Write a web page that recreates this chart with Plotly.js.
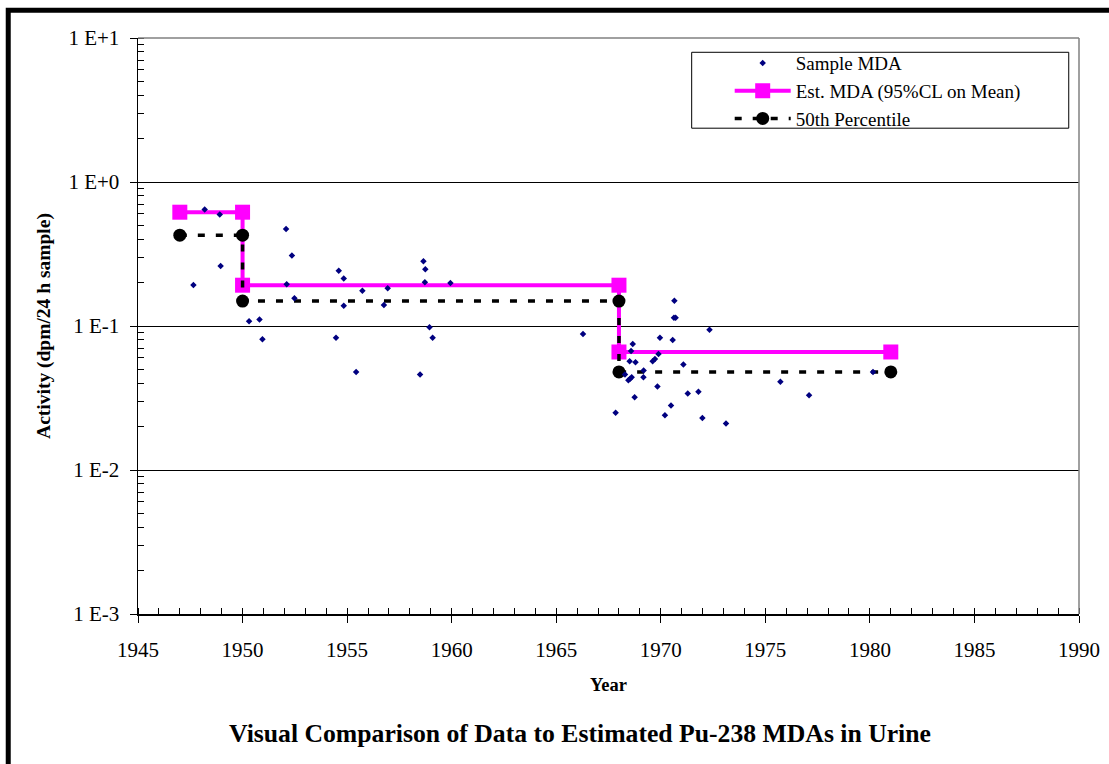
<!DOCTYPE html>
<html>
<head>
<meta charset="utf-8">
<script src="https://cdn.plot.ly/plotly-3.0.1.min.js"></script>
<style>
html,body{margin:0;padding:0;background:#fff;}
#chart{width:1109px;height:764px;}
</style>
</head>
<body>
<div id="chart"></div>
<script>
// Sample MDA points (year, dpm/24 h sample)
var sampleYears = [1948.19, 1948.91, 1948.95, 1947.65, 1952.08, 1952.36, 1952.11, 1952.48, 1950.31, 1950.81, 1950.95,
  1954.60, 1954.84, 1955.73, 1954.84, 1954.47, 1955.43, 1956.94, 1956.76, 1958.65, 1958.74, 1958.72, 1959.94, 1958.94,
  1959.09, 1958.49, 1966.28, 1970.65, 1970.63, 1970.71, 1972.33, 1968.66, 1968.58, 1969.96, 1970.57, 1969.89, 1969.72,
  1969.61, 1968.51, 1968.79, 1971.08, 1969.18, 1968.29, 1968.61, 1968.53, 1968.45, 1969.17, 1969.84, 1971.29, 1971.80,
  1968.75, 1970.49, 1967.84, 1970.20, 1971.99, 1973.12, 1975.72, 1977.09, 1980.15];
var sampleMDA = [0.644, 0.595, 0.261, 0.193, 0.471, 0.309, 0.195, 0.156, 0.108, 0.111, 0.081,
  0.242, 0.214, 0.176, 0.138, 0.083, 0.048, 0.183, 0.140, 0.282, 0.248, 0.201, 0.199, 0.098,
  0.083, 0.046, 0.088, 0.150, 0.114, 0.114, 0.094, 0.075, 0.067, 0.083, 0.080, 0.064, 0.059,
  0.057, 0.057, 0.056, 0.054, 0.049, 0.046, 0.044, 0.043, 0.042, 0.044, 0.038, 0.034, 0.035,
  0.032, 0.028, 0.025, 0.024, 0.023, 0.021, 0.041, 0.033, 0.048];

// Step series
var stepYears = [1947, 1950, 1950, 1968, 1968, 1981];
var estMDA = [0.617, 0.617, 0.192, 0.192, 0.066, 0.066];
var pct50 = [0.427, 0.427, 0.149, 0.149, 0.048, 0.048];

// Axis ticks
var yTickVals = [0.001, 0.01, 0.1, 1, 10];
var yTickText = ['1 E-3', '1 E-2', '1 E-1', '1 E+0', '1 E+1'];

var FONT = 'Liberation Serif, Times New Roman, serif';

var traces = [
  {
    x: stepYears, y: estMDA, type: 'scatter', mode: 'lines+markers',
    name: 'Est. MDA (95%CL on Mean)', legendrank: 2,
    line: {color: '#FF00FF', width: 4},
    marker: {symbol: 'square', size: 15, color: '#FF00FF'}
  },
  {
    x: stepYears, y: pct50, type: 'scatter', mode: 'lines+markers',
    name: '50th Percentile', legendrank: 3,
    line: {color: '#000000', width: 3.5, dash: '7px,11px'},
    marker: {symbol: 'circle', size: 13, color: '#000000'}
  },
  {
    x: sampleYears, y: sampleMDA, type: 'scatter', mode: 'markers',
    name: 'Sample MDA', legendrank: 1,
    marker: {symbol: 'diamond', size: 5, color: '#000080'}
  }
];

var layout = {
  width: 1109, height: 764,
  margin: {l: 138, r: 30, t: 38, b: 150, pad: 0},
  paper_bgcolor: '#ffffff', plot_bgcolor: '#ffffff',
  font: {family: FONT, color: '#000000', size: 19},
  showlegend: true,
  title: {
    text: 'Visual Comparison of Data to Estimated Pu-238 MDAs in Urine',
    font: {family: FONT, size: 25.7, weight: 'bold', color: '#000'},
    x: 0.523, xref: 'container', xanchor: 'center',
    y: 0.0406, yref: 'container', yanchor: 'middle'
  },
  xaxis: {
    range: [1945, 1990], type: 'linear',
    tickmode: 'linear', tick0: 1945, dtick: 5,
    ticks: 'outside', ticklen: 7, tickwidth: 1, tickcolor: '#000',
    minor: {dtick: 1, ticks: 'inside', ticklen: 6, tickwidth: 1, tickcolor: '#000', showgrid: false},
    showline: true, linecolor: '#000', linewidth: 1.5,
    showgrid: false, zeroline: false,
    tickfont: {family: FONT, size: 21, color: '#000'},
    ticklabelstandoff: 9,
    title: {text: 'Year', font: {family: FONT, size: 18.5, weight: 'bold'}, standoff: 17}
  },
  yaxis: {
    type: 'log', range: [-3, 1],
    tickmode: 'array', tickvals: yTickVals, ticktext: yTickText,
    ticks: 'outside', ticklen: 7, tickwidth: 1, tickcolor: '#000',
    minor: {dtick: 'D1', ticks: 'inside', ticklen: 6, tickwidth: 1, tickcolor: '#000', showgrid: false},
    showline: true, linecolor: '#000', linewidth: 1.5,
    showgrid: true, gridcolor: '#000', gridwidth: 1,
    zeroline: false,
    tickfont: {family: FONT, size: 21, color: '#000'},
    ticklabelstandoff: 6,
    title: {text: 'Activity (dpm/24 h sample)', font: {family: FONT, size: 19.5, weight: 'bold'}, standoff: 12}
  },
  legend: {
    x: 0.6288, y: 0.9892, xanchor: 'left', yanchor: 'top',
    bgcolor: 'rgba(0,0,0,0)', borderwidth: 0,
    font: {family: FONT, size: 19, color: '#000'},
    traceorder: 'normal', itemwidth: 56
  },
  shapes: [
    // plot area top and right border (gray)
    {type: 'line', xref: 'paper', yref: 'paper', x0: 0, x1: 1, y0: 1, y1: 1, line: {color: '#808080', width: 1.5}},
    {type: 'line', xref: 'paper', yref: 'paper', x0: 1, x1: 1, y0: 0, y1: 1, line: {color: '#808080', width: 1.5}},
    // legend box
    {type: 'rect', xref: 'paper', yref: 'paper', x0: 0.5884, x1: 0.9891, y0: 0.8434, y1: 0.9752,
     line: {color: '#000', width: 1}, fillcolor: 'rgba(0,0,0,0)'},
    // outer frame (left and top thick black)
    {type: 'path', xref: 'paper', yref: 'paper', path: 'M -0.1379 -0.3 L -0.1379 1.048 L 1.1 1.048',
     line: {color: '#000', width: 5}}
  ]
};

Plotly.newPlot('chart', traces, layout, {displayModeBar: false, staticPlot: true});
</script>
</body>
</html>
